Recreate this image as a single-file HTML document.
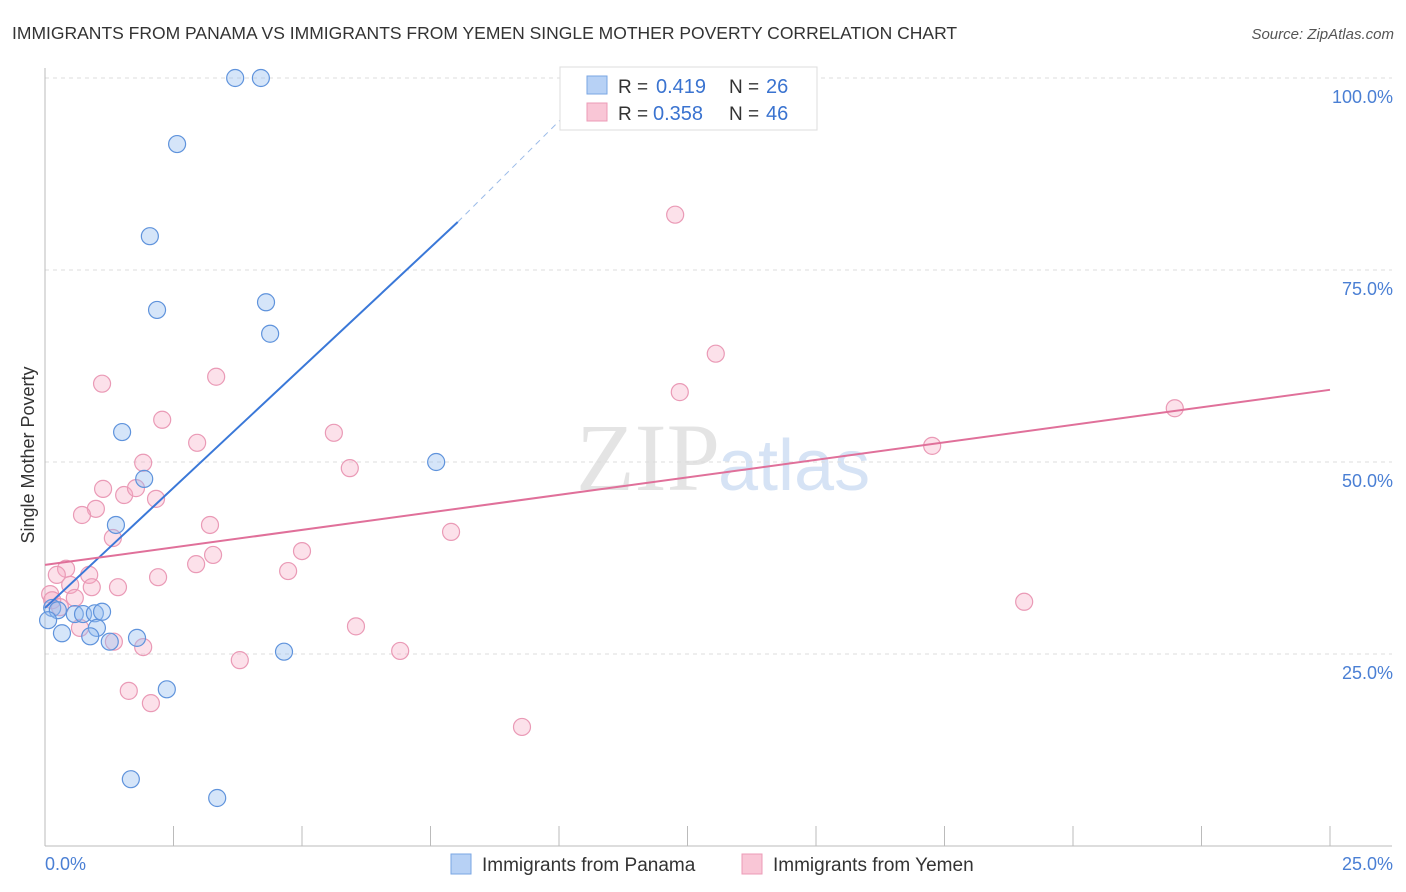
<!DOCTYPE html>
<html><head><meta charset="utf-8">
<style>
body{margin:0;background:#fff;font-family:"Liberation Sans",sans-serif;}
#wrap{position:relative;width:1406px;height:892px;overflow:hidden;}
</style></head>
<body><div id="wrap">
<svg id="svg" width="1406" height="892" xmlns="http://www.w3.org/2000/svg">
<text x="12" y="39" font-size="17.5" fill="#333">IMMIGRANTS FROM PANAMA VS IMMIGRANTS FROM YEMEN SINGLE MOTHER POVERTY CORRELATION CHART</text>
<text x="1394" y="39" font-size="15" fill="#555" font-style="italic" text-anchor="end">Source: ZipAtlas.com</text>
<text x="720" y="490" font-size="96" fill="#e4e4e4" text-anchor="end" font-family="Liberation Serif">ZIP</text>
<text x="718" y="490" font-size="72" fill="#d6e3f5">atlas</text>
<text transform="translate(34,455) rotate(-90)" font-size="18" fill="#333" text-anchor="middle">Single Mother Poverty</text>
<g id="grid"></g><g id="marks"></g><g id="lines"></g>
<g>
<rect x="560" y="67" width="257" height="63" fill="#fff" stroke="#ddd"/>
<rect x="587" y="76" width="20" height="18" fill="#b7d1f5" stroke="#7aa6e3"/>
<rect x="587" y="103" width="20" height="18" fill="#f9c6d6" stroke="#ec9bb7"/>
<text x="618" y="93" font-size="19" fill="#333">R =</text>
<text x="656" y="93" font-size="20" fill="#3a73d0">0.419</text>
<text x="729" y="93" font-size="19" fill="#333">N =</text>
<text x="766" y="93" font-size="20" fill="#3a73d0">26</text>
<text x="618" y="120" font-size="19" fill="#333">R =</text>
<text x="653" y="120" font-size="20" fill="#3a73d0">0.358</text>
<text x="729" y="120" font-size="19" fill="#333">N =</text>
<text x="766" y="120" font-size="20" fill="#3a73d0">46</text>
</g>
<g>
<rect x="451" y="854" width="20" height="20" fill="#b7d1f5" stroke="#7aa6e3"/>
<text x="482" y="871" font-size="19" fill="#333">Immigrants from Panama</text>
<rect x="742" y="854" width="20" height="20" fill="#f9c6d6" stroke="#ec9bb7"/>
<text x="773" y="871" font-size="19" fill="#333">Immigrants from Yemen</text>
</g>
</svg></div>
<script>
const xTicks=[0,2.5,5,7.5,10,12.5,15,17.5,20,22.5,25];
const yTicks=[25,50,75,100];
const yTickLabels=["25.0%","50.0%","75.0%","100.0%"];
const panamaX=[3.70,4.20,2.57,2.04,2.18,4.30,4.38,1.50,7.61,1.93,1.38,0.14,0.25,0.06,0.58,0.74,0.97,1.11,0.33,1.01,0.88,1.26,1.79,4.65,2.37,1.67,3.35];
const panamaY=[100,100,91.4,79.4,69.8,70.8,66.7,53.9,50.0,47.8,41.8,31.0,30.7,29.4,30.2,30.2,30.3,30.5,27.7,28.4,27.3,26.6,27.1,25.3,20.4,8.7,6.25];
const yemenX=[12.26,13.05,12.35,1.11,3.33,2.28,2.96,5.62,1.91,5.93,17.26,21.98,1.13,1.54,1.77,2.16,0.99,0.72,3.21,7.90,1.32,5.00,3.27,2.94,4.73,0.41,0.23,0.86,2.20,1.42,0.91,0.49,0.10,0.14,0.58,0.29,0.68,6.05,19.05,1.34,1.91,6.91,3.79,1.63,2.06,9.28];
const yemenY=[82.2,64.1,59.1,60.2,61.1,55.5,52.5,53.8,49.9,49.2,52.1,57.0,46.5,45.7,46.6,45.2,43.9,43.1,41.8,40.9,40.1,38.4,37.9,36.7,35.8,36.1,35.3,35.3,35.0,33.7,33.7,34.0,32.8,32.0,32.3,31.1,28.4,28.6,31.8,26.6,25.9,25.4,24.2,20.2,18.6,15.5];
const panamaTrend=[[0,31.0],[8.03,81.25]];
const panamaTrendDash=[[8.03,81.25],[10.41,97.1]];
const yemenTrend=[[0,36.6],[25,59.4]];
const NS="http://www.w3.org/2000/svg";
const X=v=>45+v/25*1285, Y=v=>846-v*7.68;
function mk(tag,attrs,parent){const e=document.createElementNS(NS,tag);for(const k in attrs)e.setAttribute(k,attrs[k]);document.getElementById(parent).appendChild(e);return e;}
yTicks.forEach((t,i)=>{
 const l=mk('line',{x1:45,x2:1392,y1:Y(t),y2:Y(t),stroke:'#ddd','stroke-dasharray':'4,4'},'grid');
 
 
 const tx=mk('text',{x:1393,y:Y(t)+25,'font-size':18,fill:'#4a7fd4','text-anchor':'end'},'grid');
 tx.textContent=yTickLabels[i];
 
 
});
const ax=mk('line',{x1:45,x2:45,y1:68,y2:846,stroke:'#bbb'},'grid');


const bx=mk('line',{x1:45,x2:1392,y1:846,y2:846,stroke:'#bbb'},'grid');


xTicks.forEach(t=>{
 const l=mk('line',{x1:X(t),x2:X(t),y1:826,y2:846,stroke:'#bbb'},'grid');
 
 
});
const xl0=mk('text',{x:45,y:870,'font-size':18,fill:'#4a7fd4'},'grid');xl0.textContent='0.0%';


const xl1=mk('text',{x:1393,y:870,'font-size':18,fill:'#4a7fd4','text-anchor':'end'},'grid');xl1.textContent='25.0%';


yemenX.forEach((v,i)=>{
 const c=mk('circle',{cx:X(v),cy:Y(yemenY[i]),r:8.5,fill:'rgba(245,170,195,0.35)',stroke:'#ea9ab6','stroke-width':1.2},'marks');
 
 
});
panamaX.forEach((v,i)=>{
 const c=mk('circle',{cx:X(v),cy:Y(panamaY[i]),r:8.5,fill:'rgba(150,190,240,0.4)',stroke:'#5f93dc','stroke-width':1.2},'marks');
 
 
});
const l1=mk('line',{x1:X(panamaTrend[0][0]),y1:Y(panamaTrend[0][1]),x2:X(panamaTrend[1][0]),y2:Y(panamaTrend[1][1]),stroke:'#3a78d8','stroke-width':2},'lines');


const l2=mk('line',{x1:X(panamaTrendDash[0][0]),y1:Y(panamaTrendDash[0][1]),x2:X(panamaTrendDash[1][0]),y2:Y(panamaTrendDash[1][1]),stroke:'#9bbbe8','stroke-width':1,'stroke-dasharray':'6,5'},'lines');


const l3=mk('line',{x1:X(yemenTrend[0][0]),y1:Y(yemenTrend[0][1]),x2:X(yemenTrend[1][0]),y2:Y(yemenTrend[1][1]),stroke:'#e0709a','stroke-width':2},'lines');


</script>
</body></html>
